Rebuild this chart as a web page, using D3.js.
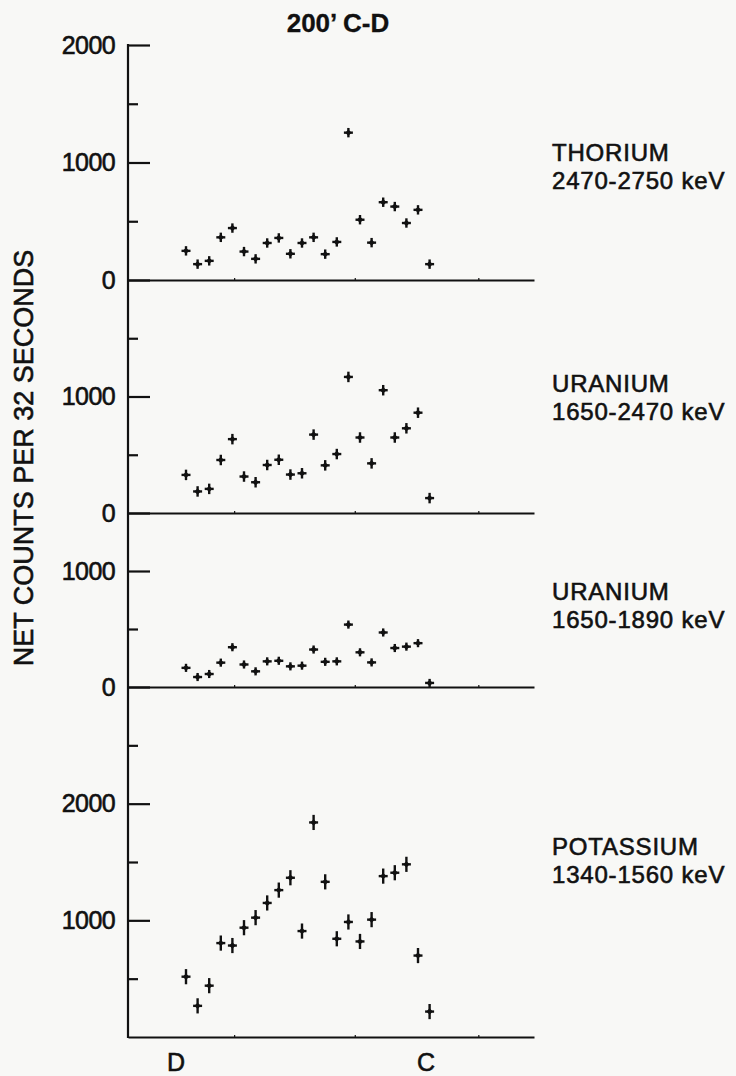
<!DOCTYPE html>
<html>
<head>
  <title>200' C-D net counts</title>
  <script src="https://d3js.org/d3.v7.min.js"></script>
  <style>
    body { margin: 0; background: #f8f8f6; }
    text { font-family: "Liberation Sans", Arial, sans-serif; fill: #111; stroke: #111; stroke-width: 0.6px; }
  </style>
</head>
<body>
<script type="text/javascript">
  var w = 736;
  var h = 1076;

  // sample positions along the line D -> C
  var samples = [1,2,3,4,5,6,7,8,9,10,11,12,13,14,15,16,17,18,19,20,21,22];

  // net counts per 32 seconds
  var thorium   = [248,135,163,363,442,242,180,315,358,223,315,363,220,324,1254,513,318,662,625,485,597,135];
  var uranium   = [327,185,207,455,634,313,264,412,457,330,341,673,409,506,1168,648,426,1054,648,727,861,128];
  var uraniumLo = [165,86,112,210,343,194,135,221,226,178,184,323,217,221,538,299,212,470,336,348,378,35];
  var potassium = [517,267,440,805,784,937,1023,1149,1259,1365,908,1839,1330,842,986,819,1006,1379,1408,1480,698,218];

  var series     = [thorium, uranium, uraniumLo, potassium];
  var panelNames = ["THORIUM", "URANIUM", "URANIUM", "POTASSIUM"];
  var panelBands = ["2470-2750 keV", "1650-2470 keV", "1650-1890 keV", "1340-1560 keV"];
  var panelMax   = [2000, 2000, 1500, 3000];
  var labelTicks = [[0, 1000, 2000], [0, 1000], [0, 1000], [1000, 2000]];
  var errBars    = [40, 45, 35, 65];   // half length of the vertical bar on each cross
  var xTickVals  = [5.15, 15.55, 26.2];
  var endLabels  = ["D", "C"];
  var endPos     = [0.15, 21.7];

  // layout
  var axisX = 128;
  var topY = 45;
  var zeroY = [280, 513, 687, 1037];
  var labelY = [161, 392, 600, 855];

  var svg = d3.select("body").append("svg")
    .attr("width", w)
    .attr("height", h);

  var xScale = d3.scaleLinear()
    .domain([-4, 31])
    .range([axisX, 534]);

  // title
  svg.append("text")
    .attr("x", 338)
    .attr("y", 32)
    .attr("text-anchor", "middle")
    .style("font-weight", "bold")
    .style("font-size", "26px")
    .style("stroke-width", "0.3px")
    .text("200\u2019 C-D");

  // long vertical axis shared by all four panels
  svg.append("line")
    .attr("x1", axisX).attr("x2", axisX)
    .attr("y1", topY - 1).attr("y2", zeroY[3] + 1)
    .attr("stroke", "#111")
    .attr("stroke-width", 2.2);

  series.forEach(function(data, i){
    var yScale = d3.scaleLinear()
      .domain([0, panelMax[i]])
      .range([zeroY[i], i == 0 ? topY : zeroY[i-1]]);

    // minor ticks every 500 (the top one belongs to the panel above)
    var minor = d3.range(500, panelMax[i] + 1, 500).filter(function(v){
      return v % 1000 != 0 && v != panelMax[i];
    });

    var gMinor = svg.append("g")
      .attr("transform", "translate(" + axisX + ",0)")
      .call(d3.axisLeft(yScale).tickValues(minor).tickSize(-10).tickFormat(""));

    var gMajor = svg.append("g")
      .attr("transform", "translate(" + axisX + ",0)")
      .call(d3.axisLeft(yScale).tickValues(labelTicks[i]).tickSize(-22).tickPadding(13)
        .tickFormat(d3.format("d")));

    [gMinor, gMajor].forEach(function(g){
      g.select(".domain").remove();
      g.selectAll(".tick line").attr("stroke", "#111").attr("stroke-width", 2.2);
      g.selectAll(".tick text")
        .style("font-family", "'Liberation Sans', Arial, sans-serif")
        .style("font-size", "25px")
        .style("letter-spacing", "-0.6px")
        .attr("fill", "#111");
    });

    // zero line for the panel
    var gBase = svg.append("g")
      .attr("transform", "translate(0," + zeroY[i] + ")")
      .call(d3.axisBottom(xScale).tickValues(xTickVals).tickSize(-2).tickSizeOuter(0).tickFormat(""));
    gBase.select(".domain").attr("stroke", "#111").attr("stroke-width", 2.2);
    gBase.selectAll(".tick line").attr("stroke", "#111").attr("stroke-width", 1.2);

    // crosses: a short horizontal bar, the counting error bar and a small dot
    var pts = svg.append("g").selectAll("g")
      .data(data)
      .enter()
      .append("g")
      .attr("transform", function(d, j){
        return "translate(" + xScale(samples[j]) + "," + yScale(d) + ")";
      });

    pts.append("line")
      .attr("x1", 0).attr("x2", 0)
      .attr("y1", function(d){ return yScale(d - errBars[i]) - yScale(d); })
      .attr("y2", function(d){ return yScale(d + errBars[i]) - yScale(d); })
      .attr("stroke", "#111")
      .attr("stroke-width", 2.4);

    pts.append("line")
      .attr("x1", -4.5).attr("x2", 4.5)
      .attr("y1", 0).attr("y2", 0)
      .attr("stroke", "#111")
      .attr("stroke-width", 2.4);

    pts.append("path")
      .attr("d", "M0,-3.2L3.2,0L0,3.2L-3.2,0Z")
      .attr("fill", "#111");

    // energy window label on the right, two separate lines
    svg.append("text")
      .attr("x", 552)
      .attr("y", labelY[i])
      .style("font-size", "24px")
      .style("letter-spacing", "0.8px")
      .text(panelNames[i]);
    svg.append("text")
      .attr("x", 552)
      .attr("y", labelY[i] + 28)
      .style("font-size", "24px")
      .style("letter-spacing", "0.8px")
      .text(panelBands[i]);
  });

  // D and C under the bottom panel
  svg.selectAll(".endlab")
    .data(endLabels)
    .enter()
    .append("text")
    .attr("class", "endlab")
    .attr("x", function(d, i){ return xScale(endPos[i]); })
    .attr("y", 1071)
    .attr("text-anchor", "middle")
    .style("font-size", "25px")
    .text(function(d){ return d; });

  // y axis title
  svg.append("text")
    .attr("transform", "translate(33,458) rotate(-90)")
    .attr("text-anchor", "middle")
    .style("font-size", "27px")
    .text("NET COUNTS PER 32 SECONDS");
</script>
</body>
</html>
